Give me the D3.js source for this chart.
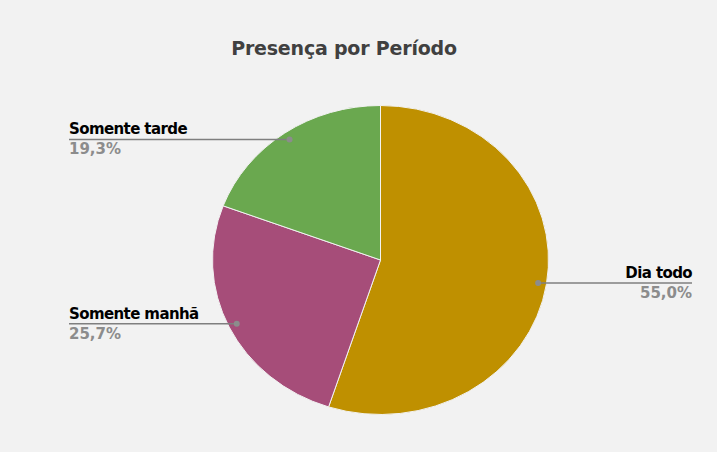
<!DOCTYPE html>
<html><head><meta charset="utf-8">
<script src="https://cdn.jsdelivr.net/npm/d3@7/dist/d3.min.js"></script>
<style>body{margin:0;background:#f2f2f2}svg{display:block}</style>
</head><body>
<script>
const categories = ["Dia todo", "Somente manhã", "Somente tarde"];
const values = [55.0, 25.7, 19.3];
const valueLabels = ["55,0%", "25,7%", "19,3%"];
const colors = ["#bf9000", "#a64d79", "#6aa84f"];

const W = 717, H = 452;
const cx = 380.5, cy = 260, rx = 168, ry = 154.5;
const svg = d3.select("body").append("svg").attr("width", W).attr("height", H);
svg.append("rect").attr("width", W).attr("height", H).attr("fill", "#f2f2f2");

svg.append("text").attr("x", 344).attr("y", 55).attr("text-anchor", "middle")
  .attr("font-family", "DejaVu Sans").attr("font-weight", "bold").attr("font-size", 19)
  .attr("letter-spacing", -0.2)
  .attr("fill", "#404040").text("Presença por Período");

const pie = d3.pie().sort(null).value(d => d)(values);
const arc = d3.arc().innerRadius(0).outerRadius(ry);
const g = svg.append("g").attr("transform", `translate(${cx},${cy}) scale(${rx/ry},1)`);
g.selectAll("path").data(pie).join("path")
  .attr("d", arc).attr("fill", (d, i) => colors[i])
  .attr("stroke", "#f2f2f2").attr("stroke-width", 1).attr("vector-effect", "non-scaling-stroke");

const labelX = [692, 69, 69];
const anchors = ["end", "start", "start"];
pie.forEach((d, i) => {
  const a = (d.startAngle + d.endAngle) / 2;
  const px = cx + Math.sin(a) * rx * 0.95;
  const py = cy - Math.cos(a) * ry * 0.95;
  svg.append("line").attr("x1", px).attr("y1", py).attr("x2", labelX[i]).attr("y2", py)
    .attr("stroke", "#7f7f7f").attr("stroke-width", 1.5);
  svg.append("circle").attr("cx", px).attr("cy", py).attr("r", 3).attr("fill", "#8c8c8c");
  svg.append("text").attr("x", labelX[i]).attr("y", py - 5).attr("text-anchor", anchors[i])
    .attr("font-family", "DejaVu Sans").attr("font-weight", "bold").attr("font-size", 15)
    .attr("letter-spacing", -0.6)
    .attr("fill", "#000").text(categories[i]);
  svg.append("text").attr("x", labelX[i]).attr("y", py + 15).attr("text-anchor", anchors[i])
    .attr("font-family", "DejaVu Sans").attr("font-weight", "bold").attr("font-size", 15)
    .attr("fill", "#8c8c8c").text(valueLabels[i]);
});
</script>
</body></html>
